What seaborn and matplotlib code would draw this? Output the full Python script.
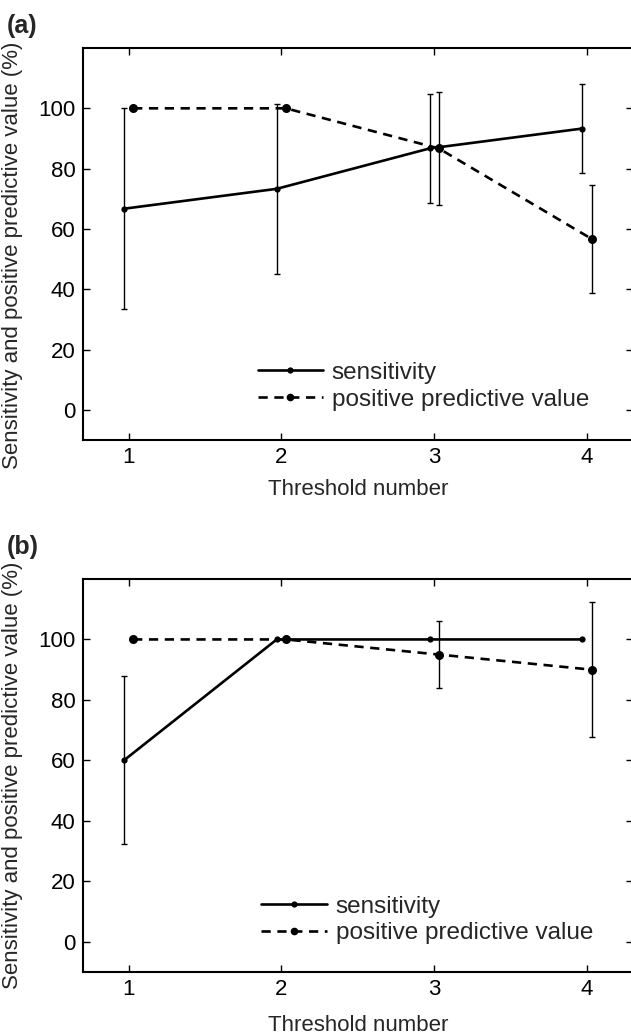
import matplotlib
matplotlib.use("Agg")
import matplotlib.pyplot as plt
from matplotlib.lines import Line2D
import numpy as np
import pandas as pd
import seaborn as sns

# ---------------- data ----------------
thresholds = [1, 2, 3, 4]

# panel (a)
sens_a = [66.7, 73.3, 86.7, 93.3]
sens_a_err = [33.3, 28.1, 18.2, 14.9]
ppv_a = [100.0, 100.0, 86.7, 56.7]
ppv_a_err = [0.0, 0.0, 18.8, 18.0]

# panel (b)
sens_b = [60.0, 100.0, 100.0, 100.0]
sens_b_err = [27.8, 0.0, 0.0, 0.0]
ppv_b = [100.0, 100.0, 95.0, 90.0]
ppv_b_err = [0.0, 0.0, 11.2, 22.4]

panel_labels = ["(a)", "(b)"]
legend_labels = ["sensitivity", "positive predictive value"]
xlabel = "Threshold number"
ylabel = "Sensitivity and positive predictive value (%)"
yticks = [0, 20, 40, 60, 80, 100]

# ---------------- style ----------------
sns.set_theme(style="white")
plt.rcParams["font.family"] = ["Liberation Sans", "DejaVu Sans"]

DODGE = 0.03
FS = 16

fig = plt.figure(figsize=(6.31, 10.35), dpi=100)
ax_a = fig.add_axes([0.131, 0.5749, 0.872, 0.3787])
ax_b = fig.add_axes([0.131, 0.0609, 0.872, 0.3797])


def draw(ax, sens, sens_err, ppv, ppv_err, legend_anchor, ylab_y, xlabpad):
    df = pd.DataFrame({
        "x": np.concatenate([np.array(thresholds) - DODGE, np.array(thresholds) + DODGE]),
        "y": sens + ppv,
        "err": sens_err + ppv_err,
        "series": [legend_labels[0]] * 4 + [legend_labels[1]] * 4,
    })
    sub_s = df[df.series == legend_labels[0]]
    sub_p = df[df.series == legend_labels[1]]
    # error bars
    for sub in (sub_s, sub_p):
        m = sub["err"] > 0
        ax.errorbar(sub.x[m], sub.y[m], yerr=sub.err[m], fmt="none",
                    ecolor="black", elinewidth=1.0, capsize=2.3, capthick=1.0, zorder=2)
    sns.lineplot(data=sub_s, x="x", y="y", ax=ax, color="black", linewidth=1.9,
                 marker="o", markersize=4.5, markeredgewidth=0, sort=False,
                 legend=False, zorder=3)
    sns.lineplot(data=sub_p, x="x", y="y", ax=ax, color="black", linewidth=1.9,
                 marker="o", markersize=6.5, markeredgewidth=0, sort=False,
                 legend=False, zorder=3)
    ax.lines[-1].set_dashes((3.5, 2.5))

    ax.set_xlim(0.7, 4.3)
    ax.set_ylim(-10, 120)
    ax.set_xticks(thresholds)
    ax.set_yticks(yticks)
    ax.tick_params(direction="in", length=5, width=1.0, top=True, right=True,
                   bottom=True, left=True, labelsize=FS, colors="black", pad=5)
    ax.tick_params(axis="x", pad=5)
    for s in ax.spines.values():
        s.set_color("black")
        s.set_linewidth(1.5)
    ax.set_xlabel(xlabel, fontsize=FS, labelpad=xlabpad)
    ax.set_ylabel(ylabel, fontsize=FS)
    ax.yaxis.set_label_coords(-0.108, ylab_y)

    handles = [
        Line2D([0], [0], color="black", lw=1.9, marker="o", markersize=4.5, markeredgewidth=0),
        Line2D([0], [0], color="black", lw=1.9, marker="o", markersize=5.5,
               markeredgewidth=0, dashes=(3.5, 2.5)),
    ]
    ax.legend(handles, legend_labels, loc="lower left", bbox_to_anchor=legend_anchor,
              frameon=False, fontsize=FS + 1.5, handlelength=2.7, handletextpad=0.35,
              labelspacing=0.2, borderpad=0, borderaxespad=0)


draw(ax_a, sens_a, sens_a_err, ppv_a, ppv_a_err, (0.318, 0.075), 0.47, 8)
draw(ax_b, sens_b, sens_b_err, ppv_b, ppv_b_err, (0.325, 0.07), 0.5, 11)

fig.text(0.011, 0.9865, panel_labels[0], fontsize=FS + 2, fontweight="bold", va="top", ha="left")
fig.text(0.011, 0.483, panel_labels[1], fontsize=FS + 2, fontweight="bold", va="top", ha="left")

fig.savefig("out.png", dpi=100)
